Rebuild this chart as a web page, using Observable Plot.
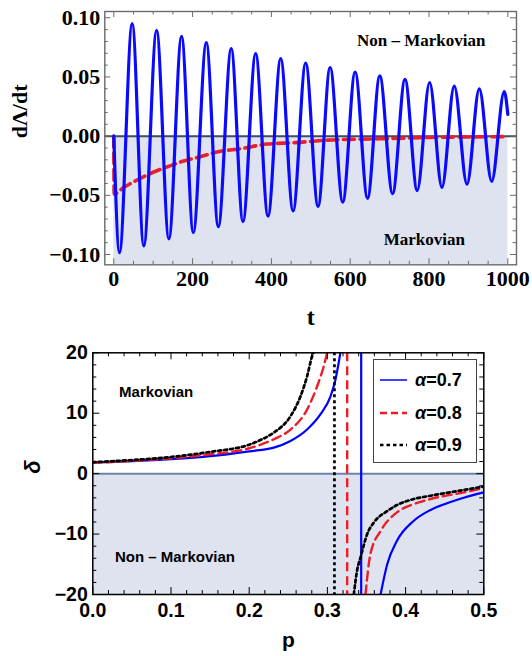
<!DOCTYPE html>
<html><head><meta charset="utf-8">
<script src="https://cdn.jsdelivr.net/npm/d3@7"></script>
<script src="https://cdn.jsdelivr.net/npm/@observablehq/plot@0.6"></script>
<style>
body{margin:0;background:#fff;}
#wrap{position:relative;width:532px;height:656px;overflow:hidden;background:#fff;}
#top{position:absolute;left:0;top:0;}
#bot{position:absolute;left:0;top:340px;}
#legend{position:absolute;left:373px;top:359px;width:104px;height:104px;border:1.3px solid #444;background:#fff;font:bold 18px "Liberation Sans",Arial,sans-serif;box-sizing:border-box;color:#000;}
.row{position:absolute;left:6px;height:24px;display:flex;align-items:center;white-space:nowrap;}
.row svg{margin-right:8px;}
</style></head><body>
<div id="wrap"><div id="top"></div><div id="bot"></div><div id="legend"></div></div>
<script>
// ---------- Top panel data ----------
const peakT   = [46.7, 108.6, 172, 234.8, 298, 360, 423.6, 487, 549, 612.5, 675, 739, 801.5, 864, 927.6, 991];
const peakV   = [0.095, 0.0894, 0.0843, 0.079, 0.0739, 0.0697, 0.0655, 0.0618, 0.058, 0.0542, 0.0509, 0.048, 0.0453, 0.0422, 0.0399, 0.0377];
const troughT = [14.5, 76.2, 139.8, 201.8, 265.3, 327.8, 391.4, 455, 518.4, 581, 644, 707.5, 770, 832.8, 896.3, 959];
const troughV = [-0.0984, -0.0927, -0.0868, -0.0815, -0.0765, -0.0722, -0.0675, -0.0632, -0.0593, -0.0557, -0.0525, -0.0486, -0.046, -0.0433, -0.0405, -0.0382];
const blueEnds = [[0, 0], [1000, 0.0183]];
const markovT = [0, 1, 25, 51, 100, 136, 180, 220, 271, 320, 390, 460, 542, 620, 711, 800, 900, 1000];
const markovV = [0, -0.0489, -0.0434, -0.0385, -0.0305, -0.0259, -0.0208, -0.0174, -0.0128, -0.0107, -0.0067, -0.0055, -0.0034, -0.0026, -0.002, -0.0011, -0.0007, -0.0004];
const topShadeT = [0, 1000];
const topXTicks = [0, 200, 400, 600, 800, 1000];
const topYTicks = [-0.10, -0.05, 0.00, 0.05, 0.10];
const topLabels = [{t: 780, v: 0.081, text: "Non – Markovian"}, {t: 788, v: -0.087, text: "Markovian"}];

// ---------- Bottom panel data ----------
const alphas = ["α=0.7", "α=0.8", "α=0.9"];
const upperP = [
  [0, 0.05, 0.1, 0.15, 0.2, 0.2315, 0.2528, 0.274, 0.291, 0.304, 0.3104, 0.3166],
  [0, 0.05, 0.1, 0.15, 0.2, 0.2315, 0.2528, 0.274, 0.287, 0.2954, 0.2997],
  [0, 0.05, 0.1, 0.15, 0.2, 0.215, 0.2315, 0.2528, 0.2656, 0.274, 0.2806, 0.282]
];
const upperD = [
  [1.8, 2.05, 2.4, 2.9, 3.7, 4.3, 5.4, 7.3, 9.8, 12.8, 15.6, 20],
  [1.8, 2.1, 2.55, 3.2, 4.2, 5.7, 7.3, 10.6, 14.5, 17.8, 20],
  [1.9, 2.25, 2.76, 3.6, 4.8, 5.6, 6.8, 9.5, 12.8, 16.1, 19.5, 20]
];
const lowerP = [
  [0.368, 0.3765, 0.389, 0.4105, 0.432, 0.453, 0.4744, 0.5],
  [0.3487, 0.355, 0.368, 0.389, 0.4105, 0.432, 0.4744, 0.5],
  [0.3338, 0.338, 0.3423, 0.3509, 0.3593, 0.3765, 0.389, 0.4105, 0.432, 0.4744, 0.5]
];
const lowerD = [
  [-20, -15, -11.1, -7.8, -6.0, -4.9, -4.0, -3.1],
  [-20, -13.3, -9.5, -6.4, -5.05, -4.2, -3.1, -2.4],
  [-20, -16, -13.9, -10.0, -8.1, -6.2, -5.2, -4.2, -3.65, -2.7, -2.15]
];
const poleP = [0.3432, 0.3253, 0.309];
const botShadeP = [0, 0.5];
const botXTicks = [0.0, 0.1, 0.2, 0.3, 0.4, 0.5];
const botYTicks = [-20, -10, 0, 10, 20];
const botLabels = [{p: 0.081, d: 13.55, text: "Markovian"}, {p: 0.105, d: -13.8, text: "Non – Markovian"}];

// ---------- styles ----------
const seriesStyle = [
  {stroke: "#0000ff", strokeWidth: 2.2, dash: null, lw: 1.5},
  {stroke: "#ee1c25", strokeWidth: 2.4, dash: "9,5", lw: 2.6},
  {stroke: "#000000", strokeWidth: 2.7, dash: "3,3", lw: 2.6}
];
const shade = "#dee3ef";
const minus = s => s.replace("-", "\u2212");

// ---------- Top chart ----------
{
  const W = 532, H = 340, mL = 104.3, mR = 16, mT = 11, mB = 75.7;
  const FW = W - mL - mR, FH = H - mT - mB;
  const blue = [];
  peakT.forEach((t, i) => blue.push({t, v: peakV[i]}));
  troughT.forEach((t, i) => blue.push({t, v: troughV[i]}));
  blueEnds.forEach(([t, v]) => blue.push({t, v}));
  blue.sort((a, b) => a.t - b.t);
  const red = markovT.map((t, i) => ({t, v: markovV[i]}));
  const yDom = [-0.1087, 0.1053];
  const xMinor = d3.range(0, 1001, 50).filter(d => d % 200 !== 0);
  const yMinor = d3.range(-10, 11, 1).filter(d => d % 5 !== 0).map(d => d / 100);
  const fc = "#6b6b6b";
  const chart = Plot.plot({
    width: W, height: H, marginLeft: mL, marginRight: mR, marginTop: mT, marginBottom: mB,
    x: {domain: [-22.8, 1022], axis: null},
    y: {domain: yDom, axis: null},
    style: {fontFamily: "'Liberation Serif', 'Times New Roman', serif", fontWeight: "bold", background: "white", color: "black"},
    marks: [
      Plot.rect([0], {x1: () => topShadeT[0], x2: () => topShadeT[1], y1: () => yDom[0], y2: () => 0, fill: shade}),
      Plot.ruleY([0], {stroke: "#414d5c", strokeWidth: 2}),
      Plot.line(red, {x: "t", y: "v", stroke: "#e8202a", strokeWidth: 3.6, strokeDasharray: "11,5.5", curve: "monotone-x"}),
      Plot.line(blue, {x: "t", y: "v", stroke: "#0a0aff", strokeWidth: 3.2, curve: "monotone-x"}),
      // ticks (inward, all four sides)
      Plot.ruleX(xMinor, {x: d => d, insetTop: FH - 3.5, stroke: fc}),
      Plot.ruleX(topXTicks, {x: d => d, insetTop: FH - 6, stroke: fc}),
      Plot.ruleX(xMinor, {x: d => d, insetBottom: FH - 3.5, stroke: fc}),
      Plot.ruleX(topXTicks, {x: d => d, insetBottom: FH - 6, stroke: fc}),
      Plot.ruleY(yMinor, {y: d => d, insetRight: FW - 3.5, stroke: fc}),
      Plot.ruleY(topYTicks, {y: d => d, insetRight: FW - 6, stroke: fc}),
      Plot.ruleY(yMinor, {y: d => d, insetLeft: FW - 3.5, stroke: fc}),
      Plot.ruleY(topYTicks, {y: d => d, insetLeft: FW - 6, stroke: fc}),
      Plot.frame({stroke: fc, strokeWidth: 1.4}),
      // tick labels
      Plot.text(topXTicks, {x: d => d, frameAnchor: "bottom", dy: 21, text: d => String(d), fontSize: 22}),
      Plot.text(topYTicks, {y: d => d, frameAnchor: "left", dx: -4.5, textAnchor: "end", text: d => minus(d.toFixed(2)), fontSize: 22}),
      // region labels
      Plot.text(topLabels, {x: "t", y: "v", text: "text", fontSize: 17}),
      // axis titles
      Plot.text(["t"], {frameAnchor: "bottom", dy: 60.5, fontSize: 24}),
      Plot.text(["dΛ/dt"], {frameAnchor: "left", dx: -85, rotate: -90, fontSize: 22})
    ]
  });
  document.getElementById("top").appendChild(chart);
}

// ---------- Bottom chart ----------
{
  const W = 532, H = 316, mL = 92.3, mR = 48.7, mT = 12.3, mB = 62;
  const FW = W - mL - mR, FH = H - mT - mB;
  const segs = [];
  alphas.forEach((a, k) => {
    upperP[k].forEach((p, i) => segs.push({p, d: upperD[k][i], k, z: k + "u"}));
    lowerP[k].forEach((p, i) => segs.push({p, d: lowerD[k][i], k, z: k + "l"}));
  });
  const xMinor = d3.range(0, 26, 1).filter(d => d % 5 !== 0).map(d => d / 50);
  const yMinor = d3.range(-20, 21, 2).filter(d => d % 10 !== 0);
  const fc = "#000";
  const lineMarks = [];
  alphas.forEach((a, k) => {
    const s = seriesStyle[k];
    lineMarks.push(Plot.line(segs.filter(r => r.k === k), {x: "p", y: "d", z: "z", stroke: s.stroke, strokeWidth: s.strokeWidth, strokeDasharray: s.dash, curve: "monotone-x", clip: true}));
    lineMarks.push(Plot.ruleX([poleP[k]], {x: d => d, stroke: s.stroke, strokeWidth: s.strokeWidth, strokeDasharray: s.dash}));
  });
  const chart = Plot.plot({
    width: W, height: H, marginLeft: mL, marginRight: mR, marginTop: mT, marginBottom: mB,
    x: {domain: [0, 0.5], axis: null},
    y: {domain: [-20, 20], axis: null},
    style: {fontFamily: "'Liberation Sans', Arial, sans-serif", fontWeight: "bold", background: "white", color: "black"},
    marks: [
      Plot.rect([0], {x1: () => botShadeP[0], x2: () => botShadeP[1], y1: () => -20, y2: () => 0, fill: shade}),
      Plot.ruleY([0], {stroke: "#6d84a8", strokeWidth: 2}),
      ...lineMarks,
      Plot.ruleX(xMinor, {x: d => d, insetTop: FH - 4, stroke: fc}),
      Plot.ruleX(botXTicks, {x: d => d, insetTop: FH - 7, stroke: fc}),
      Plot.ruleX(xMinor, {x: d => d, insetBottom: FH - 4, stroke: fc}),
      Plot.ruleX(botXTicks, {x: d => d, insetBottom: FH - 7, stroke: fc}),
      Plot.ruleY(yMinor, {y: d => d, insetRight: FW - 4, stroke: fc}),
      Plot.ruleY(botYTicks, {y: d => d, insetRight: FW - 7, stroke: fc}),
      Plot.ruleY(yMinor, {y: d => d, insetLeft: FW - 4, stroke: fc}),
      Plot.ruleY(botYTicks, {y: d => d, insetLeft: FW - 7, stroke: fc}),
      Plot.frame({stroke: fc, strokeWidth: 1.5}),
      Plot.text(botXTicks, {x: d => d, frameAnchor: "bottom", dy: 22, text: d => d.toFixed(1), fontSize: 19.5}),
      Plot.text(botYTicks, {y: d => d, frameAnchor: "left", dx: -5, textAnchor: "end", text: d => minus(String(d)), fontSize: 19.5}),
      Plot.text(botLabels, {x: "p", y: "d", text: "text", fontSize: 15}),
      Plot.text(["p"], {frameAnchor: "bottom", dy: 52.5, fontSize: 21}),
      Plot.text(["δ"], {frameAnchor: "left", dx: -60, rotate: -90, fontSize: 22, fontStyle: "italic"})
    ]
  });
  document.getElementById("bot").appendChild(chart);
}

// ---------- Legend ----------
{
  const lg = document.getElementById("legend");
  const tops = [8, 41, 73];
  alphas.forEach((a, k) => {
    const s = seriesStyle[k];
    const row = document.createElement("div");
    row.className = "row";
    row.style.top = tops[k] + "px";
    row.innerHTML = `<svg width="27" height="10"><line x1="0" y1="5" x2="27" y2="5" stroke="${s.stroke}" stroke-width="${s.lw}" ${s.dash ? `stroke-dasharray="${k === 1 ? "7,4" : "3.5,3"}"` : ""}/></svg><span><i>α</i>${a.slice(1)}</span>`;
    lg.appendChild(row);
  });
}
</script>
</body></html>
